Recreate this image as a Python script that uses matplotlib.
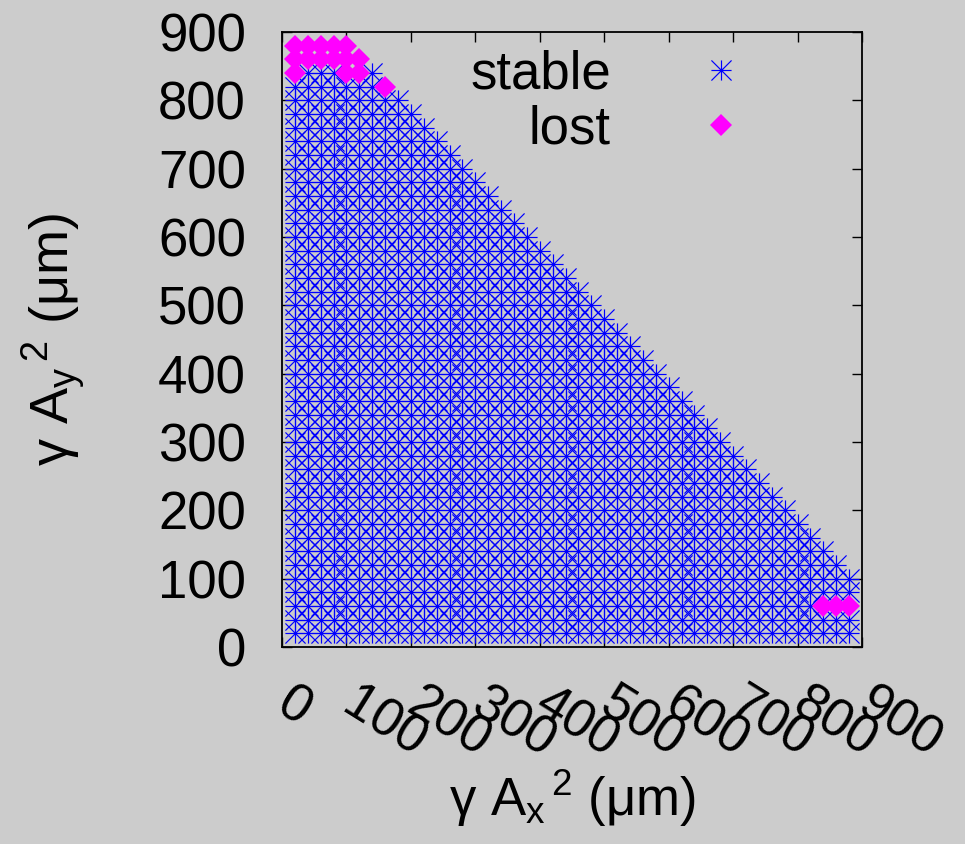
import numpy as np
import matplotlib
matplotlib.use("Agg")
import matplotlib.pyplot as plt
from matplotlib.path import Path

# ---------------- data ----------------
# scan grid columns (gamma*Ax^2, um) and highest tracked gamma*Ay^2 in each column
x_cols = [20, 40, 60, 80, 100, 120, 140, 160, 180, 200, 220, 240, 260, 280, 300,
          320, 340, 360, 380, 400, 420, 440, 460, 480, 500, 520, 540, 560, 580, 600,
          620, 640, 660, 680, 700, 720, 740, 760, 780, 800, 820, 840, 860, 880]
y_top = [880, 880, 880, 880, 880, 860, 840, 820, 800, 780, 760, 740, 720, 700, 680,
         660, 640, 620, 600, 580, 560, 540, 520, 500, 480, 460, 440, 420, 400, 380,
         360, 340, 320, 300, 280, 260, 240, 220, 200, 180, 160, 140, 120, 100]
y_step = 20
y_first = 20

# lost particles
lost_x = [20, 40, 60, 80, 100, 20, 40, 60, 80, 100, 120, 20, 100, 120, 160, 840, 860, 880]
lost_y = [880, 880, 880, 880, 880, 860, 860, 860, 860, 860, 860, 840, 840, 840, 820, 60, 60, 60]

ticks = [0, 100, 200, 300, 400, 500, 600, 700, 800, 900]
tick_labels = ["0", "100", "200", "300", "400", "500", "600", "700", "800", "900"]

# stable = tracked grid points that were not lost
lost_set = set(zip(lost_x, lost_y))
stable_x, stable_y = [], []
for xc, yt in zip(x_cols, y_top):
    for yv in range(y_first, yt + 1, y_step):
        if (xc, yv) not in lost_set:
            stable_x.append(xc)
            stable_y.append(yv)

# ---------------- style ----------------
BG = "#cccccc"
FONT = "Liberation Sans"
FS = 38
plt.rcParams["font.family"] = [FONT, "DejaVu Sans"]
plt.rcParams["mathtext.fontset"] = "custom"
plt.rcParams["mathtext.rm"] = FONT
plt.rcParams["mathtext.it"] = FONT
plt.rcParams["mathtext.bf"] = FONT

fig = plt.figure(figsize=(9.65, 8.44), dpi=100, facecolor=BG)
ax = fig.add_axes([282 / 965, (844 - 647) / 844, 580 / 965, 615 / 844])
ax.set_facecolor(BG)

# gnuplot-like asterisk (pt 3): + and x combined
star = Path([(-1, 0), (1, 0), (0, -1), (0, 1), (-1, -1), (1, 1), (-1, 1), (1, -1)],
            [Path.MOVETO, Path.LINETO] * 4)

ln_s, = ax.plot(stable_x, stable_y, linestyle="none", marker=star, markersize=14.5,
                markerfacecolor="none", markeredgecolor="#0000ff", markeredgewidth=0.85,
                label="stable")
ln_l, = ax.plot(lost_x, lost_y, linestyle="none", marker="D", markersize=10.8,
                markerfacecolor="#ff00ff", markeredgewidth=0, label="lost")

ax.set_xlim(0, 900)
ax.set_ylim(0, 900)
ax.set_xticks(ticks)
ax.set_yticks(ticks)
ax.set_yticklabels(tick_labels, fontsize=FS)
ax.set_xticklabels(tick_labels, fontsize=FS, rotation=-32, ha="left", va="center",
                   rotation_mode="anchor")

ax.tick_params(axis="both", which="both", direction="in", length=7, width=1.0,
               top=True, right=True, colors="black")
ax.tick_params(axis="y", pad=26)
ax.tick_params(axis="x", pad=38)
for sp in ax.spines.values():
    sp.set_linewidth(1.3)
    sp.set_color("black")

ax.set_ylabel(r"γ $\mathrm{A}_\mathrm{y}{}^{\,\mathrm{2}}$ (μm)", fontsize=FS + 1)
ax.set_xlabel(r"γ $\mathrm{A}_\mathrm{x}{}^{\,\mathrm{2}}$ (μm)", fontsize=FS)
ax.yaxis.set_label_coords(-0.335, 0.5)
ax.xaxis.set_label_coords(0.5, -0.197)

leg = ax.legend(handles=[ln_s, ln_l], loc="upper right", bbox_to_anchor=(0.812, 0.98),
                markerfirst=False, frameon=False, fontsize=FS, handlelength=1.0,
                handletextpad=1.59, borderaxespad=0, borderpad=0.1, labelspacing=0.09)

fig.savefig("out.png", dpi=100, facecolor=BG)
